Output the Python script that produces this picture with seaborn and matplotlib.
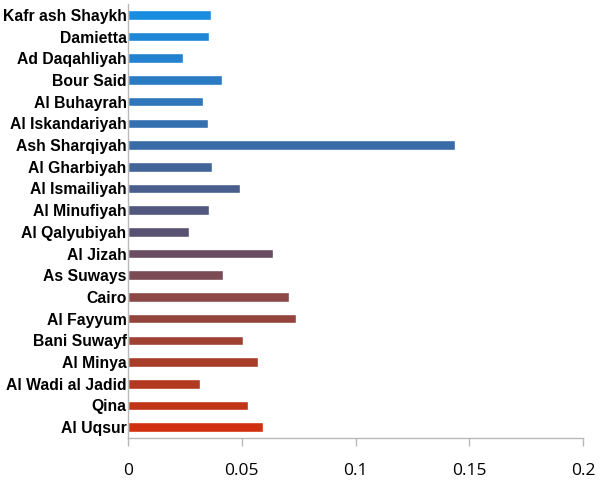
import matplotlib
matplotlib.use("Agg")
import matplotlib.pyplot as plt
import seaborn as sns
import pandas as pd
from matplotlib.colors import LinearSegmentedColormap, to_hex

regions = ["Kafr ash Shaykh", "Damietta", "Ad Daqahliyah", "Bour Said", "Al Buhayrah",
           "Al Iskandariyah", "Ash Sharqiyah", "Al Gharbiyah", "Al Ismailiyah", "Al Minufiyah",
           "Al Qalyubiyah", "Al Jizah", "As Suways", "Cairo", "Al Fayyum", "Bani Suwayf",
           "Al Minya", "Al Wadi al Jadid", "Qina", "Al Uqsur"]
values = [0.0363, 0.0357, 0.0243, 0.0415, 0.0329,
          0.0351, 0.1437, 0.0370, 0.0493, 0.0357,
          0.0268, 0.0637, 0.0417, 0.0708, 0.0740, 0.0504,
          0.0572, 0.0317, 0.0529, 0.0594]
x_ticks = [0, 0.05, 0.1, 0.15, 0.2]
x_tick_labels = ["0", "0.05", "0.1", "0.15", "0.2"]

df = pd.DataFrame({"region": regions, "value": values})

cmap = LinearSegmentedColormap.from_list(
    "grad", [(0.0, "#1a8ce0"), (0.32, "#3a6aa6"), (0.53, "#5a5070"),
             (0.68, "#8a4848"), (0.89, "#b03a20"), (1.0, "#d03010")])
n = len(regions)
colors = [to_hex(cmap(i / (n - 1))) for i in range(n)]

sns.set_style("white")
plt.rcParams["font.family"] = ["Liberation Sans", "DejaVu Sans"]

fig = plt.figure(figsize=(6, 4.8), dpi=100)
ax = fig.add_axes([0.2133, 0.0875, 0.7584, 0.9042])

sns.barplot(data=df, y="region", x="value", hue="region", palette=colors,
            orient="h", width=0.44, legend=False, ax=ax, saturation=1)

ax.set_xlim(0, 0.2)
ax.set_ylim(n - 0.5, -0.5)
ax.set_xticks(x_ticks)
ax.set_xticklabels(x_tick_labels, fontsize=12.5, fontfamily="Open Sans", color="black")
ax.set_xlabel("")
ax.set_ylabel("")
for lab in ax.get_yticklabels():
    lab.set_fontfamily("Liberation Sans")
    lab.set_fontweight("bold")
    lab.set_fontsize(11.3)
    lab.set_color("black")
ax.tick_params(axis="y", length=0, pad=1)
ax.tick_params(axis="x", length=6, width=1, color="#b8b8b8", direction="out", pad=12, bottom=True)
for s in ["top", "right"]:
    ax.spines[s].set_visible(False)
for s in ["left", "bottom"]:
    ax.spines[s].set_color("#b8b8b8")
    ax.spines[s].set_linewidth(1)
ax.grid(False)

fig.savefig("out.png", dpi=100)
